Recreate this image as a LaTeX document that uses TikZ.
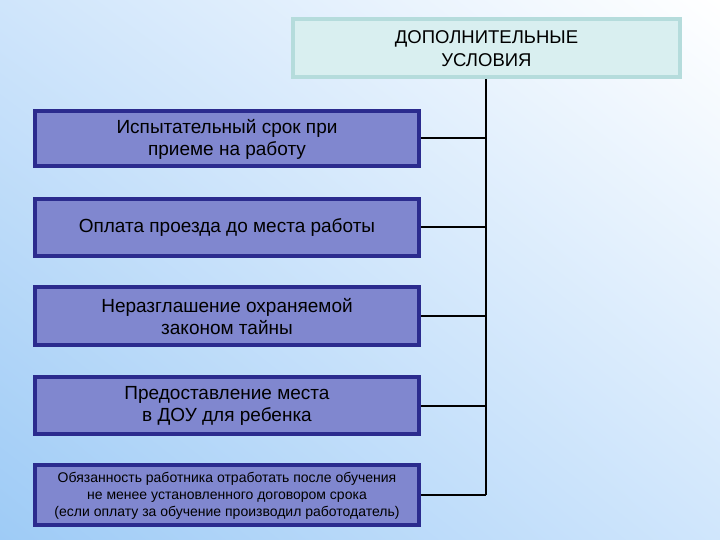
\documentclass[tikz,border=0pt]{standalone}
\usepackage{fontspec}
\setmainfont{Liberation Sans}
\usetikzlibrary{shadings}
\definecolor{bgLL}{HTML}{9ECBF6}
\definecolor{bgUL}{HTML}{CFE5FB}
\definecolor{bgLR}{HTML}{D0E6FC}
\definecolor{bgUR}{HTML}{FFFFFF}
\definecolor{topfill}{HTML}{D9EFF0}
\definecolor{topdraw}{HTML}{B5DCDC}
\definecolor{boxfill}{HTML}{8087CF}
\definecolor{boxdraw}{HTML}{2B2B8E}
\tikzset{
  topbox/.style={draw=topdraw, line width=4pt, fill=topfill, inner sep=0pt},
  itembox/.style={draw=boxdraw, line width=4pt, fill=boxfill, inner sep=0pt},
  itemtext/.style={align=center, font=\fontsize{19}{22}\selectfont},
  link/.style={line width=2pt, black},
}
\begin{document}
\begin{tikzpicture}[x=1pt,y=-1pt]
\useasboundingbox (0,0) rectangle (720,540);
\shade[lower left=bgLL, upper left=bgUL, lower right=bgLR, upper right=bgUR] (0,540) rectangle (720,0);
% top box
\draw[topbox] (293,19) rectangle (680,77);
\node[align=center, font=\fontsize{18.5}{23}\selectfont] (top) at (486.5,48.5) {ДОПОЛНИТЕЛЬНЫЕ\\УСЛОВИЯ};
\coordinate (topb) at (486,79);
% item boxes
\draw[itembox] (35,111) rectangle (419,166);
\node[itemtext] (b1) at (227,139) {Испытательный срок при\\приеме на работу};
\draw[itembox] (35,199) rectangle (419,256);
\node[itemtext] (b2) at (227,228) {Оплата проезда до места работы};
\draw[itembox] (35,287) rectangle (419,345);
\node[itemtext] (b3) at (227,316.5) {Неразглашение охраняемой\\законом тайны};
\draw[itembox] (35,377) rectangle (419,434);
\node[itemtext] (b4) at (227,406) {Предоставление места\\в ДОУ для ребенка};
\draw[itembox] (35,465) rectangle (419,525);
\node[align=center, font=\fontsize{14}{17}\selectfont] (b5) at (227,496) {Обязанность работника отработать после обучения\\не менее установленного договором срока\\(если оплату за обучение производил работодатель)};
% connectors
\coordinate (r1) at (421,138.5);
\coordinate (r2) at (421,227.5);
\coordinate (r3) at (421,316);
\coordinate (r4) at (421,405.5);
\coordinate (r5) at (421,495);
\coordinate (v5) at (486,495);
\draw[link] (topb) -- (v5);
\foreach \i in {1,...,5} { \draw[link] (r\i) -- (r\i -| v5); }
\end{tikzpicture}
\end{document}
